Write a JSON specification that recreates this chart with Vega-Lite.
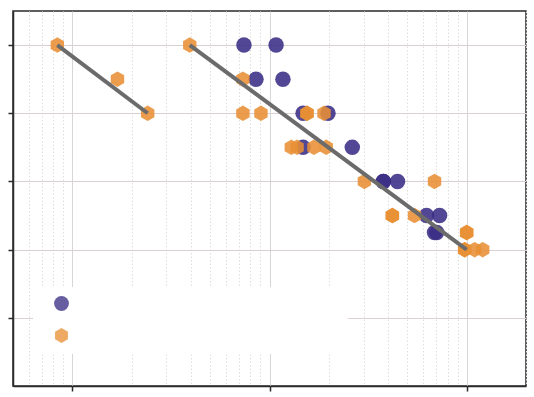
{
  "$schema": "https://vega.github.io/schema/vega-lite/v6.json",
  "width": 513,
  "height": 375,
  "autosize": "none",
  "padding": {"left": 13, "top": 11, "right": 8, "bottom": 11},
  "background": "white",
  "config": {
    "view": {"stroke": "#2a2a2a", "strokeWidth": 1.5},
    "axis": {"labels": false, "title": null, "domainColor": "#2a2a2a", "domainWidth": 1.5, "tickColor": "#2a2a2a", "tickSize": 5, "tickWidth": 1.5}
  },
  "datasets": {
    "pts": [
      {"series": "A", "x": 7.42, "y": 5},
      {"series": "A", "x": 10.8, "y": 5},
      {"series": "A", "x": 8.54, "y": 4.5},
      {"series": "A", "x": 11.7, "y": 4.5},
      {"series": "A", "x": 14.8, "y": 4},
      {"series": "A", "x": 19.8, "y": 4},
      {"series": "A", "x": 14.8, "y": 3.5},
      {"series": "A", "x": 26.3, "y": 3.5},
      {"series": "A", "x": 37.8, "y": 3},
      {"series": "A", "x": 37.8, "y": 3},
      {"series": "A", "x": 44.6, "y": 3},
      {"series": "A", "x": 62.6, "y": 2.5},
      {"series": "A", "x": 72.9, "y": 2.5},
      {"series": "A", "x": 68.7, "y": 2.25},
      {"series": "A", "x": 70.5, "y": 2.25},
      {"series": "B", "x": 0.839, "y": 5},
      {"series": "B", "x": 1.694, "y": 4.5},
      {"series": "B", "x": 2.41, "y": 4},
      {"series": "B", "x": 3.94, "y": 5},
      {"series": "B", "x": 7.33, "y": 4.5},
      {"series": "B", "x": 7.33, "y": 4},
      {"series": "B", "x": 9.05, "y": 4},
      {"series": "B", "x": 15.5, "y": 4},
      {"series": "B", "x": 15.5, "y": 4},
      {"series": "B", "x": 18.9, "y": 4},
      {"series": "B", "x": 12.9, "y": 3.5},
      {"series": "B", "x": 13.8, "y": 3.5},
      {"series": "B", "x": 16.8, "y": 3.5},
      {"series": "B", "x": 19.4, "y": 3.5},
      {"series": "B", "x": 30.3, "y": 3},
      {"series": "B", "x": 68.7, "y": 3},
      {"series": "B", "x": 42.0, "y": 2.5},
      {"series": "B", "x": 42.0, "y": 2.5},
      {"series": "B", "x": 54.4, "y": 2.5},
      {"series": "B", "x": 100, "y": 2.25},
      {"series": "B", "x": 100, "y": 2.25},
      {"series": "B", "x": 97.7, "y": 2},
      {"series": "B", "x": 97.7, "y": 2},
      {"series": "B", "x": 109.8, "y": 2},
      {"series": "B", "x": 120.6, "y": 2}
    ],
    "fits": [
      {"seg": 1, "x": 0.839, "y": 5},
      {"seg": 1, "x": 2.41, "y": 4},
      {"seg": 2, "x": 3.94, "y": 5},
      {"seg": 2, "x": 100, "y": 2}
    ]
  },
  "layer": [
    {
      "mark": {"type": "rule", "opacity": 0},
      "data": {"name": "fits"},
      "encoding": {
        "x": {"field": "x", "type": "quantitative", "scale": {"type": "log", "domain": [0.5, 200], "nice": false},
          "axis": {
            "values": [0.6, 0.7, 0.8, 0.9, 1, 2, 3, 4, 5, 6, 7, 8, 9, 10, 20, 30, 40, 50, 60, 70, 80, 90, 100, 200],
            "grid": true,
            "gridWidth": 1,
            "gridColor": {"condition": {"test": "datum.value == 1 || datum.value == 10 || datum.value == 100", "value": "#d6d6d6"}, "value": "#dedede"},
            "gridDash": {"condition": {"test": "datum.value == 1 || datum.value == 10 || datum.value == 100", "value": []}, "value": [1.5, 2]},
            "tickOpacity": {"condition": {"test": "datum.value == 1 || datum.value == 10 || datum.value == 100", "value": 1}, "value": 0}
          }},
        "y": {"field": "y", "type": "quantitative", "scale": {"domain": [0, 5.5], "nice": false},
          "axis": {"values": [1, 2, 3, 4, 5], "grid": true, "gridColor": "#dccfcf", "gridWidth": 1}}
      }
    },
    {
      "mark": {"type": "rule", "color": "#5f9a38", "strokeWidth": 3, "strokeDash": [19, 4, 3, 4]},
      "encoding": {"y": {"datum": 3.75}}
    },
    {
      "data": {"name": "pts"},
      "mark": {"type": "point", "filled": true, "opacity": 0.88, "size": 240, "strokeWidth": 0},
      "encoding": {
        "x": {"field": "x", "type": "quantitative"},
        "y": {"field": "y", "type": "quantitative"},
        "color": {"field": "series", "type": "nominal", "scale": {"domain": ["A", "B"], "range": ["#3a2e85", "#e88f34"]},
          "legend": {"title": null, "orient": "none", "legendX": 20, "legendY": 276, "fillColor": "white", "padding": 8, "symbolOffset": 12, "rowPadding": 11, "labelOffset": 270, "labelExpr": "''", "symbolSize": 220, "symbolOpacity": 1}},
        "shape": {"field": "series", "type": "nominal", "scale": {"domain": ["A", "B"], "range": ["circle", "M0,-1L0.866,-0.5L0.866,0.5L0,1L-0.866,0.5L-0.866,-0.5Z"]}}
      }
    },
    {
      "data": {"name": "fits"},
      "mark": {"type": "line", "color": "#6b6b6b", "strokeWidth": 4},
      "encoding": {
        "x": {"field": "x", "type": "quantitative"},
        "y": {"field": "y", "type": "quantitative"},
        "detail": {"field": "seg", "type": "nominal"}
      }
    }
  ]
}
